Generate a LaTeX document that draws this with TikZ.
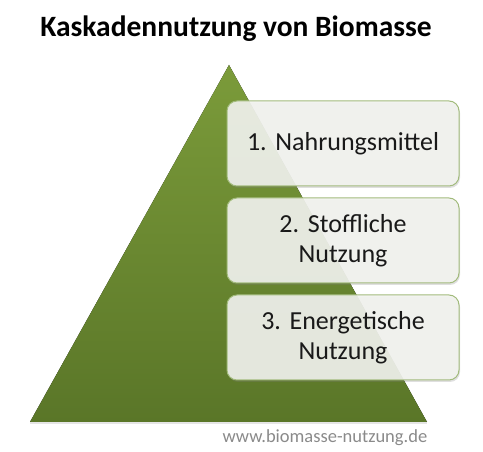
\documentclass[tikz,border=0pt]{standalone}
\usepackage{fontspec}
\setmainfont{Carlito}
\usepackage{xcolor}
\usepackage{tikz}
\usetikzlibrary{positioning,shadows}

\definecolor{pyrtop}{HTML}{7B9B3A}
\definecolor{pyrbot}{HTML}{5A7628}
\definecolor{boxline}{HTML}{A2BB7C}
\definecolor{boxfill}{HTML}{F2F3EF}
\definecolor{urlgray}{HTML}{8A8A8A}

\begin{document}
\frenchspacing
\begin{tikzpicture}[
  x=1pt, y=1pt,
  node distance=11pt,
  level/.style={rectangle, draw=boxline, line width=1pt, rounded corners=10pt,
    fill=boxfill, fill opacity=0.9, text opacity=1,
    minimum width=232pt, minimum height=85pt, text width=220pt,
    align=center, text=black!90, font=\fontsize{26}{30}\selectfont,
    drop shadow={shadow xshift=1pt, shadow yshift=-2pt, opacity=0.25}},
  heading/.style={font=\fontsize{29.5}{32}\selectfont\bfseries},
  weblink/.style={text=urlgray, font=\fontsize{18.5}{20}\selectfont}
]
\useasboundingbox (0,0) rectangle (483,452);

% pyramid
\coordinate (apex) at (229,387);
\coordinate (baseL) at (30,30);
\coordinate (baseR) at (427,30);
\fill[gray!40, opacity=0.5] ([yshift=-2pt]baseL) -- ([yshift=-2pt]baseR) -- (baseR) -- (baseL) -- cycle;
\fill[top color=pyrtop, bottom color=pyrbot] (apex) -- (baseR) -- (baseL) -- cycle;

\node[heading] (title) at (236,423) {Kaskadennutzung von Biomasse};

\node[level] (l1) at (343,308.5) {1. Nahrungsmittel};
\node[level, below=of l1] (l2) {2. Stoffliche\\Nutzung};
\node[level, below=of l2] (l3) {3. Energetische\\Nutzung};

\node[weblink] (url) at (325,14) {www.biomasse-nutzung.de};
\end{tikzpicture}
\end{document}
